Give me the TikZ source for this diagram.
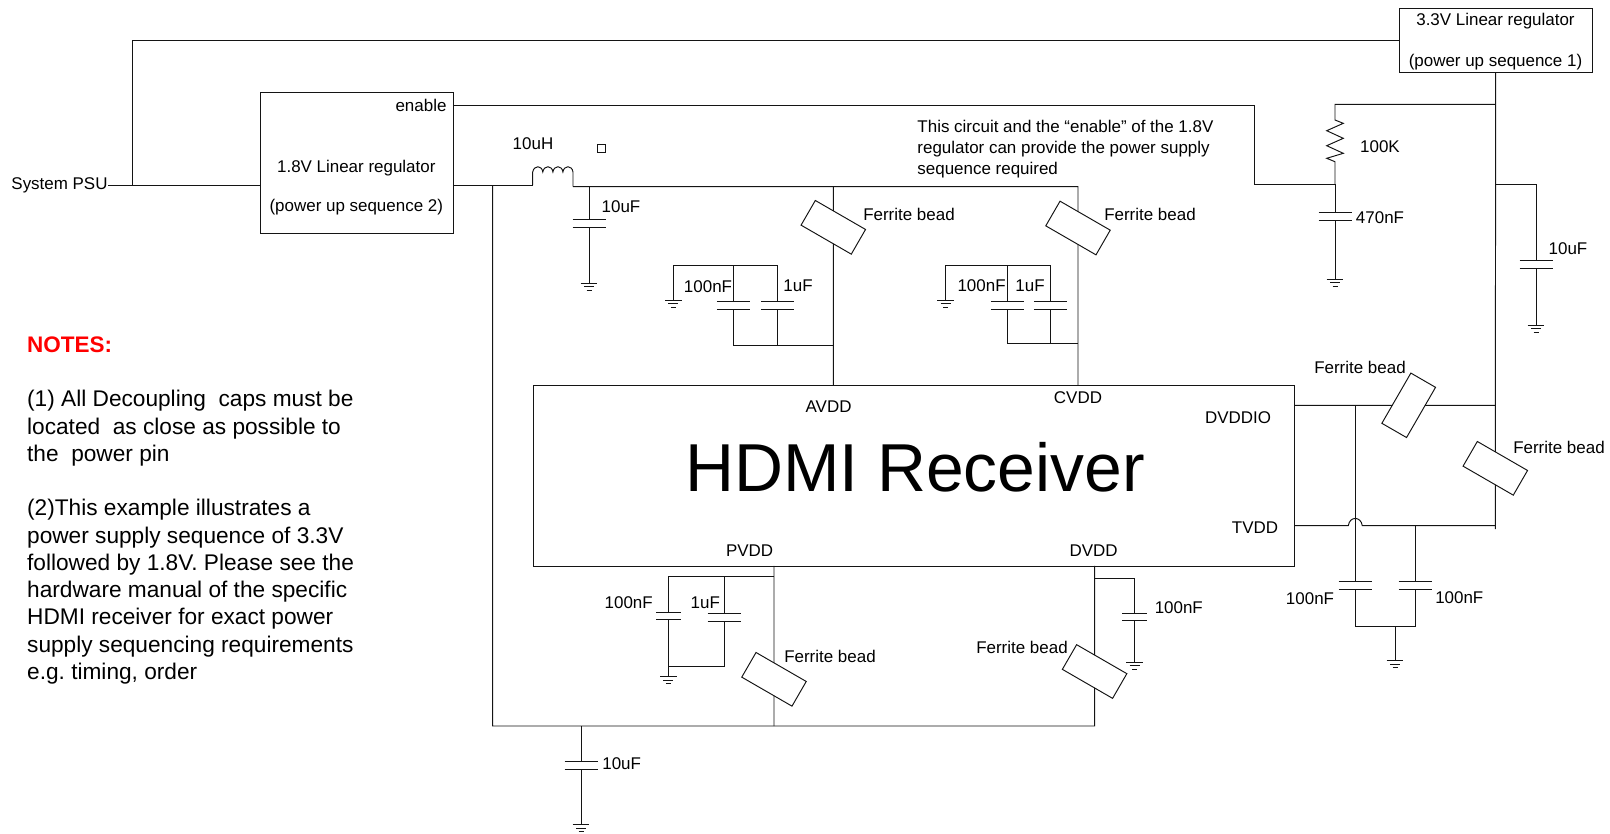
\documentclass[tikz,border=0pt]{standalone}
\usepackage{fontspec}
\setmainfont{Liberation Sans}
\usepackage{xcolor}
\definecolor{hdmiink}{RGB}{20, 20, 20}

\begin{document}
\begin{tikzpicture}[x=0.02cm, y=-0.02cm, line width=0.55pt, draw=hdmiink, text=black,
    lbl/.style={font=\fontsize{9.65}{11.9}\selectfont, inner sep=0pt, yshift=-0.3pt},
    regbox/.style={rectangle, draw, inner sep=0pt, outer sep=0pt},
    bead/.style={rectangle, draw, minimum width=1.16cm, minimum height=0.57cm, inner sep=0pt, outer sep=0pt},
    capsym/.pic={\draw (-16.5,-4) -- (16.5,-4) (-16.5,4) -- (16.5,4);
                 \coordinate (-top) at (0,-4); \coordinate (-bot) at (0,4);},
    capsmall/.pic={\draw (-12.3,-3.5) -- (12.3,-3.5) (-12.3,3.5) -- (12.3,3.5);
                 \coordinate (-top) at (0,-3.5); \coordinate (-bot) at (0,3.5);},
    gndsym/.pic={\draw (-8.3,0) -- (8.3,0) (-5,3.5) -- (5,3.5) (-2.5,7) -- (2.5,7);
                 \coordinate (-in) at (0,0);}]
    \useasboundingbox (0,0) rectangle (1610,833);

    % Regulators and receiver
    \node[regbox, minimum width=3.854cm, minimum height=1.286cm] (reg33) at (1495.65,40.15) {};
    \node[regbox, minimum width=3.86cm, minimum height=2.82cm] (reg18) at (356.5,162.7) {};
    \node[regbox, minimum width=15.24cm, minimum height=3.62cm] (hdmi) at (914,475.5) {};
    \node[inner sep=0pt, font=\fontsize{38.6}{46}\selectfont] (hdmilbl) at (915,467) {HDMI Receiver};
    \node[lbl, align=center] (reg33lbl) at (1495.5,41) {3.3V Linear regulator\\[11.9pt](power up sequence 1)};
    \node[lbl, align=center, font=\fontsize{9.65}{11.2}\selectfont] (reg18lbl) at (356.3,187) {1.8V Linear regulator\\[11.2pt](power up sequence 2)};
    \node[lbl] (enablelbl) at (421,104.7) {enable};
    \node[lbl] (psu) at (59.5,185) {System PSU};
    \node[lbl] (avddlbl) at (828.6,406.6) {AVDD};
    \node[lbl] (cvddlbl) at (1078,397.4) {CVDD};
    \node[lbl] (dvddiolbl) at (1238,417) {DVDDIO};
    \node[lbl] (tvddlbl) at (1255,526.8) {TVDD};
    \node[lbl] (pvddlbl) at (749.6,550.4) {PVDD};
    \node[lbl] (dvddlbl) at (1093.6,550.4) {DVDD};

    % Ferrite beads
    \node[bead, rotate=-30] (beadA) at (833.3,227.3) {};
    \node[bead, rotate=-30] (beadC) at (1078,228) {};
    \node[bead, rotate=-30] (beadP) at (774,679.3) {};
    \node[bead, rotate=-30] (beadD) at (1094.6,671.5) {};
    \node[bead, rotate=60] (beadI) at (1408.7,405.3) {};
    \node[bead, rotate=-30] (beadT) at (1495.3,468.3) {};
    \node[lbl] (fbA) at (909,213.6) {Ferrite bead};
    \node[lbl] (fbC) at (1150,213.6) {Ferrite bead};
    \node[lbl] (fbP) at (830,656.3) {Ferrite bead};
    \node[lbl] (fbD) at (1022,647) {Ferrite bead};
    \node[lbl] (fbI) at (1360,367.3) {Ferrite bead};
    \node[lbl] (fbT) at (1559,447.3) {Ferrite bead};

    % Capacitors and grounds
    \pic (cL) at (589,223) {capsym};
    \pic (gL) at (589,283.3) {gndsym};
    \pic (cA1) at (733.3,305) {capsym};
    \pic (cA2) at (777.7,305) {capsym};
    \pic (gA) at (673.3,300) {gndsym};
    \pic (cC1) at (1007.3,305) {capsym};
    \pic (cC2) at (1050.4,305) {capsym};
    \pic (gC) at (945.7,300) {gndsym};
    \pic (cR) at (1335,216) {capsym};
    \pic (gR) at (1335,279.3) {gndsym};
    \pic (cS) at (1536,264.7) {capsym};
    \pic (gS) at (1536,325) {gndsym};
    \pic (cP1) at (668.3,615.8) {capsmall};
    \pic (cP2) at (724,617.7) {capsym};
    \pic (gP) at (668.3,676.7) {gndsym};
    \pic (cD) at (1134.6,616.5) {capsmall};
    \pic (gD) at (1134.6,662) {gndsym};
    \pic (cB) at (581,765) {capsym};
    \pic (gB) at (581,824.5) {gndsym};
    \pic (cT1) at (1355,585.7) {capsym};
    \pic (cT2) at (1415,585.7) {capsym};
    \pic (gT) at (1395,660.7) {gndsym};

    \node[lbl] (l10uH) at (533,142.7) {10uH};
    \node[lbl] (l10uFa) at (621,206) {10uF};
    \node[lbl] (l100nA) at (708,285.7) {100nF};
    \node[lbl] (l1uA) at (798,285.7) {1uF};
    \node[lbl] (l100nC) at (981.6,285.5) {100nF};
    \node[lbl] (l1uC) at (1030,285.5) {1uF};
    \node[lbl] (l100K) at (1380,146) {100K};
    \node[lbl] (l470n) at (1380,217.3) {470nF};
    \node[lbl] (l10uFb) at (1568,248.3) {10uF};
    \node[lbl] (l100nP) at (628.7,602.3) {100nF};
    \node[lbl] (l1uP) at (705.3,602.3) {1uF};
    \node[lbl] (l100nD) at (1178.8,606.8) {100nF};
    \node[lbl] (l10uFc) at (621.7,763.3) {10uF};
    \node[lbl] (l100nT1) at (1310,598.3) {100nF};
    \node[lbl] (l100nT2) at (1459.3,596.7) {100nF};

    % Junctions
    \coordinate (psuj) at (132.5,185);
    \coordinate (inL) at (532.7,185);
    \coordinate (inR) at (573,186.7);
    \coordinate (vinj) at (492.7,185);
    \coordinate (capLj) at (589,186.7);
    \coordinate (topA) at (833.3,186.7);
    \coordinate (topC) at (1078,186.7);
    \coordinate (enj) at (1254.3,184.3);
    \coordinate (rcj) at (1335,184.3);
    \coordinate (rtop) at (1335,104.3);
    \coordinate (railA) at (1495.3,104.3);
    \coordinate (railB) at (1495.3,184.3);
    \coordinate (railC) at (1495.3,405.3);
    \coordinate (railD) at (1495.3,525.7);
    \coordinate (railE) at (1495.3,529);
    \coordinate (botL) at (492.7,726);
    \coordinate (botB) at (581,726);
    \coordinate (botP) at (774,726);
    \coordinate (botD) at (1094.6,726);
    \coordinate (dioj) at (1355,405.3);

    % Supply wiring
    \draw (reg33.west) -| (psuj);
    \draw (psu.east) -- (reg18.west |- psu.east);
    \draw (reg18.east |- enablelbl) -| (enj) -- (rcj);
    \draw (reg18.east |- vinj) -- (inL);
    \draw (vinj) -- (botL) -- (botD) -- (beadD);
    \draw (botB) -- (cB-top) (cB-bot) -- (gB-in);
    \draw (botP) -- (beadP);

    % Inductor
    \draw (inL) -- (532.7,172) .. controls (534,165) and (542,165) .. (542.8,172)
        .. controls (544,165) and (552,165) .. (552.9,172)
        .. controls (554,165) and (562,165) .. (562.9,172)
        .. controls (564,165) and (572,165) .. (573,172) -- (inR);
    \draw (inR) -- (topC) -- (beadC);
    \draw (capLj) -- (cL-top) (cL-bot) -- (gL-in);
    \draw[fill=white] (597,144.3) rectangle (605.7,152.7);

    % AVDD and CVDD
    \draw (topA) -- (beadA);
    \draw (beadA) -- (beadA |- hdmi.north);
    \draw (beadC) -- (beadC |- hdmi.north);
    \draw (gA-in) -- (673.3,265) -- (777.7,265) -- (cA2-top);
    \draw (733.3,265) -- (cA1-top) (cA1-bot) -- (733.3,345) -- (833.3,345) (cA2-bot) -- (777.7,345);
    \draw (gC-in) -- (945.7,265) -- (1050.4,265) -- (cC2-top);
    \draw (1007.3,265) -- (cC1-top) (cC1-bot) -- (1007.3,343) -- (1078,343) (cC2-bot) -- (1050.4,343);

    % Enable network
    \draw (railA) -- (rtop) -- (1335,120) -- ++(8.3,3.3) -- ++(-16.6,7.4) -- ++(16.6,7.6) -- ++(-16.6,7.4) -- ++(16.6,7.6) -- ++(-16.6,5) -- ++(8.3,3.4) -- (rcj);
    \draw (rcj) -- (cR-top) (cR-bot) -- (gR-in);
    \draw (railB) -| (cS-top) (cS-bot) -- (gS-in);

    % 3.3V rail and receiver pins
    \draw (reg33.south) -- (beadT);
    \draw (beadT) -- (railE);
    \draw (hdmi.east |- dioj) -- (beadI) (beadI) -- (railC);
    \draw (dioj) -- (cT1-top) (cT1-bot) -- (1355,626) -- (1415,626) -- (cT2-bot) (cT2-top) -- (1415,525.7);
    \draw (1395,626) -- (gT-in);
    \draw (hdmi.east |- railD) -- (1348.3,525.7) .. controls (1349.5,516) and (1361,516) .. (1362.3,525.7) -- (railD);

    % PVDD and DVDD
    \draw (beadP |- hdmi.south) -- (beadP);
    \draw (beadD |- hdmi.south) -- (beadD);
    \draw (774,576.3) -- (668.3,576.3) -- (cP1-top) (cP1-bot) -- (gP-in);
    \draw (724,576.3) -- (cP2-top) (cP2-bot) -- (724,666.7) -- (668.3,666.7);
    \draw (1094.6,578) -- (1134.6,578) -- (cD-top) (cD-bot) -- (gD-in);

    % Notes
    \node[lbl, anchor=north west, align=left] (circuitnote) at (917,119) {This circuit and the “enable” of the 1.8V\\regulator can provide the power supply\\sequence required};
    \node[anchor=west, inner sep=0pt, text=red, font=\fontsize{12.8}{15.6}\selectfont\bfseries] (noteshead) at (26.7,345) {NOTES:};
    \node[anchor=north west, inner sep=0pt, align=left, font=\fontsize{12.9}{15.5}\selectfont] (notesbody) at (26.7,390) {(1) All Decoupling~ caps must be\\located~ as close as possible to\\the~ power pin\\[15.5pt](2)This example illustrates a\\power supply sequence of 3.3V\\followed by 1.8V. Please see the\\hardware manual of the specific\\HDMI receiver for exact power\\supply sequencing requirements\\e.g.\ timing, order};
\end{tikzpicture}
\end{document}
